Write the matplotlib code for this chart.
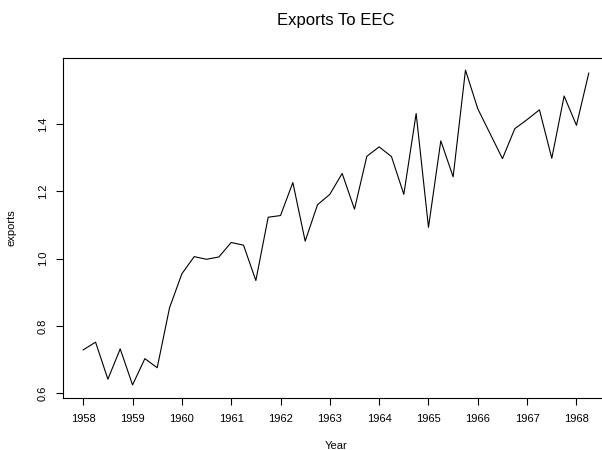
import matplotlib
matplotlib.use('Agg')
import matplotlib.pyplot as plt
import numpy as np

plt.rcParams['font.family'] = ['Liberation Sans', 'DejaVu Sans']

# ── dados: exportações trimestrais para a CEE, 1958 T1 – 1968 T2
INICIO = 1958.0
exports = [
    0.729, 0.752, 0.642, 0.732, 0.625, 0.703, 0.676, 0.854,
    0.955, 1.006, 0.998, 1.005, 1.048, 1.040, 0.935, 1.123,
    1.128, 1.226, 1.052, 1.160, 1.191, 1.253, 1.147, 1.304,
    1.332, 1.303, 1.191, 1.431, 1.093, 1.350, 1.243, 1.560,
    1.445, 1.371, 1.297, 1.386, 1.413, 1.442, 1.298, 1.483,
    1.396, 1.551,
]
anos = np.arange(len(exports)) / 4 + INICIO

x_ticks = list(range(1958, 1969))
y_ticks = [0.6, 0.8, 1.0, 1.2, 1.4]
y_ticklabels = ['0.6', '0.8', '1.0', '1.2', '1.4']

fig = plt.figure(figsize=(6.02, 4.5), dpi=100)
# o eixo direito fica um pouco fora da figura, como na referência
ax = fig.add_axes([63 / 602, 1 - 397.5 / 450, 546 / 602, 340 / 450])

ax.plot(anos, exports, color='black', linewidth=0.8)

# extensão de 4% como no R
def estende(v):
    lo, hi = min(v), max(v)
    d = (hi - lo) * 0.04
    return lo - d, hi + d

ax.set_xlim(*estende(anos))
ax.set_ylim(*estende(exports))

ax.set_xticks(x_ticks)
ax.set_xticklabels([str(a) for a in x_ticks])
ax.set_yticks(y_ticks)
ax.set_yticklabels(y_ticklabels, rotation=90, va='center')

ax.tick_params(axis='both', labelsize=8, length=5, width=0.8)
ax.tick_params(axis='x', pad=7)
ax.tick_params(axis='y', pad=6)
for sp in ax.spines.values():
    sp.set_linewidth(0.8)
ax.spines['right'].set_visible(False)

ax.set_xlabel('Year', fontsize=8, labelpad=12)
ax.set_ylabel('exports', fontsize=8, labelpad=15)

fig.text(336 / 602, 1 - 20 / 450, 'Exports To EEC', ha='center', va='center',
         fontsize=12)

fig.savefig('out.png', dpi=100, facecolor='white')
